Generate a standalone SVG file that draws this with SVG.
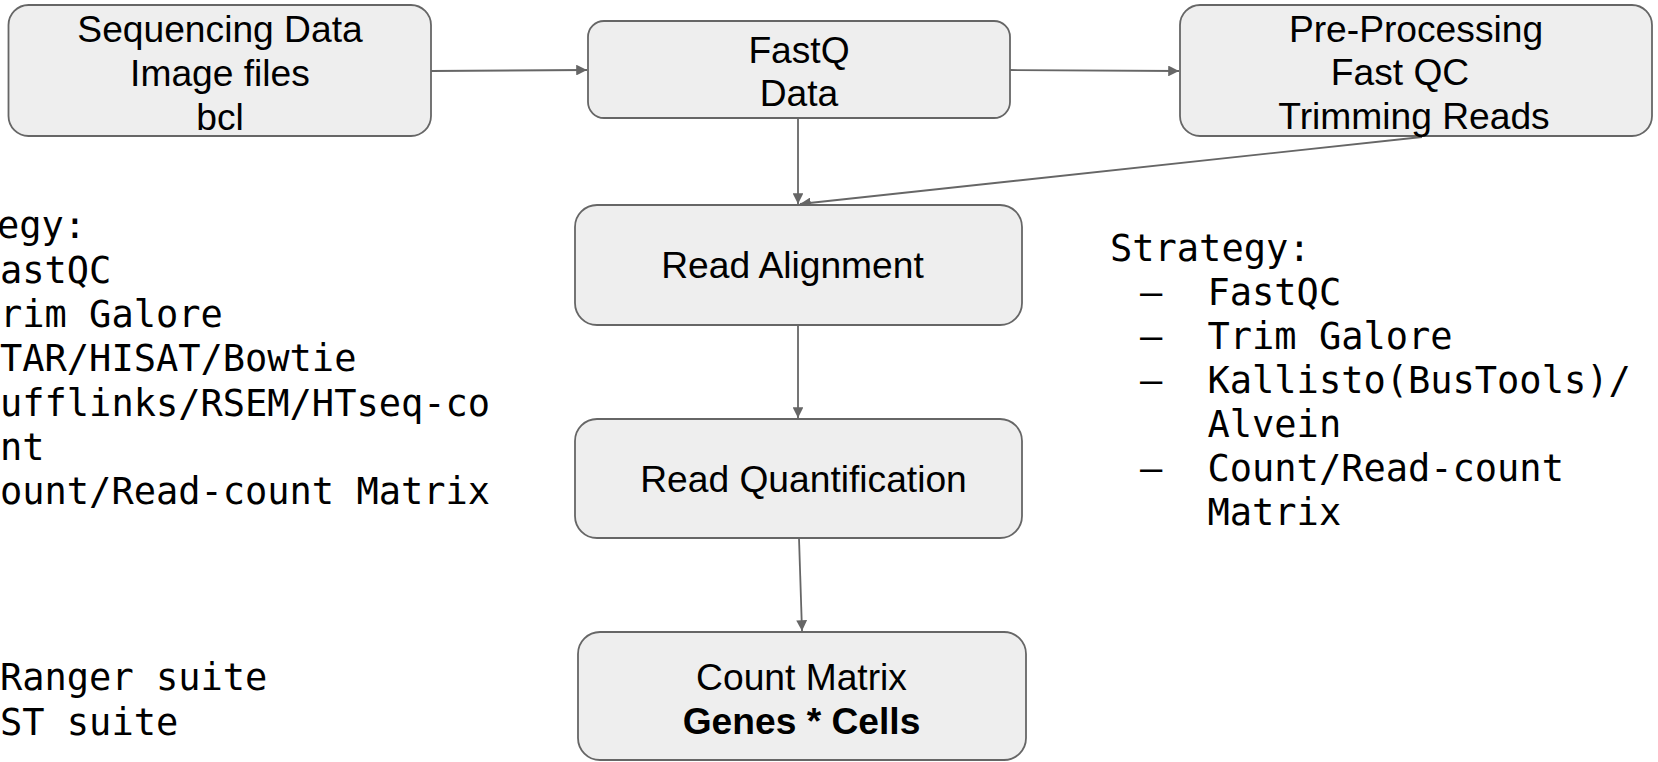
<svg xmlns="http://www.w3.org/2000/svg" width="1658" height="762" viewBox="0 0 1658 762">
<defs>
<style>
.box{fill:#eeeeee;stroke:#666666;stroke-width:1.8}
.t{font-family:"Liberation Sans",Arial,sans-serif;font-size:37.2px;fill:#000;text-anchor:middle}
.b{font-weight:bold}
.m{font-family:"DejaVu Sans Mono","Liberation Mono",monospace;font-size:37px;fill:#000}
.c{stroke:#666666;stroke-width:1.8;fill:none;marker-end:url(#ah)}
</style>
<marker id="ah" viewBox="0 0 10 10" refX="10" refY="5" markerWidth="6" markerHeight="6" markerUnits="strokeWidth" orient="auto">
<path d="M0,0 L10,5 L0,10 z" fill="#666666"/>
</marker>
</defs>
<rect width="1658" height="762" fill="#ffffff"/>
<g id="connectors">
<line class="c" x1="431" y1="71" x2="587" y2="70"/>
<line class="c" x1="1010" y1="70" x2="1179" y2="71"/>
<line class="c" x1="798" y1="118" x2="798" y2="204"/>
<line class="c" x1="1422" y1="137" x2="800" y2="204"/>
<line class="c" x1="798" y1="325" x2="798" y2="418"/>
<line class="c" x1="799" y1="538" x2="802" y2="631"/>
</g>
<g id="node-sequencing">
<rect class="box" x="8.5" y="5" width="422.5" height="131" rx="20"/>
<text class="t" x="220" y="41.5">Sequencing Data</text>
<text class="t" x="220" y="86">Image files</text>
<text class="t" x="220" y="130">bcl</text>
</g>
<g id="node-fastq">
<rect class="box" x="588" y="21" width="422" height="97" rx="16"/>
<text class="t" x="799" y="62.5">FastQ</text>
<text class="t" x="799" y="106">Data</text>
</g>
<g id="node-preprocessing">
<rect class="box" x="1180" y="5" width="472" height="131" rx="20"/>
<text class="t" x="1416" y="41.5">Pre-Processing</text>
<text class="t" x="1400" y="85">Fast QC</text>
<text class="t" x="1414" y="129">Trimming Reads</text>
</g>
<g id="node-alignment">
<rect class="box" x="575" y="205" width="447" height="120" rx="22"/>
<text class="t" x="792.5" y="278">Read Alignment</text>
</g>
<g id="node-quantification">
<rect class="box" x="575" y="419" width="447" height="119" rx="22"/>
<text class="t" x="803.5" y="492">Read Quantification</text>
</g>
<g id="node-countmatrix">
<rect class="box" x="578" y="632" width="448" height="128" rx="22"/>
<text class="t" x="801.5" y="689.5">Count Matrix</text>
<text class="t b" x="801.5" y="734">Genes * Cells</text>
</g>
<g id="text-left">
<text class="m" x="-3" y="238">egy:</text>
<text class="m" x="0" y="282.5">astQC</text>
<text class="m" x="0" y="327">rim Galore</text>
<text class="m" x="0" y="371">TAR/HISAT/Bowtie</text>
<text class="m" x="0" y="415.5">ufflinks/RSEM/HTseq-co</text>
<text class="m" x="0" y="460">nt</text>
<text class="m" x="0" y="504">ount/Read-count Matrix</text>
<text class="m" x="0" y="690">Ranger suite</text>
<text class="m" x="0" y="734.5">ST suite</text>
</g>
<g id="text-right">
<text class="m" x="1110" y="261">Strategy:</text>
<text class="m" x="1140" y="305">–</text>
<text class="m" x="1207.5" y="305">FastQC</text>
<text class="m" x="1140" y="349">–</text>
<text class="m" x="1207.5" y="349">Trim Galore</text>
<text class="m" x="1140" y="393">–</text>
<text class="m" x="1207.5" y="393">Kallisto(BusTools)/</text>
<text class="m" x="1207.5" y="437">Alvein</text>
<text class="m" x="1140" y="481">–</text>
<text class="m" x="1207.5" y="481">Count/Read-count</text>
<text class="m" x="1207.5" y="525">Matrix</text>
</g>
</svg>
